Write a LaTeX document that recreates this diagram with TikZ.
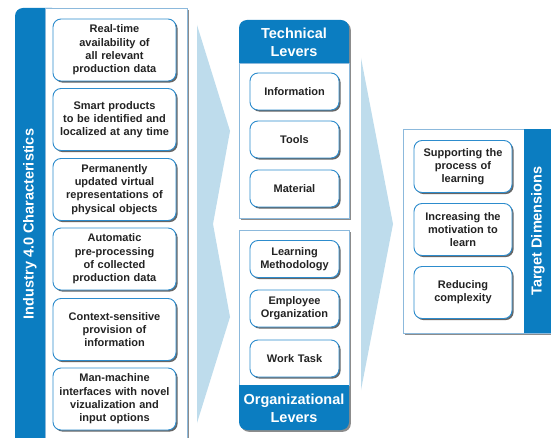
\documentclass[tikz,border=0pt]{standalone}
\usepackage{fontspec}
\setmainfont{Liberation Sans}
\usetikzlibrary{shadows}
\definecolor{levblue}{RGB}{11,125,193}
\definecolor{arrblue}{RGB}{190,220,236}
\definecolor{boxline}{RGB}{45,140,205}
\definecolor{panline}{RGB}{140,185,220}
\definecolor{txtgray}{RGB}{35,35,35}
\tikzset{
  item/.style={draw=boxline, line width=0.9pt, fill=white, rounded corners=8pt, align=center, inner sep=1pt, text=txtgray,
    font=\fontsize{11}{13.3}\selectfont\bfseries,
    drop shadow={shadow xshift=1.6pt, shadow yshift=-1.6pt, fill=black!60, opacity=1}},
  charbox/.style={item, text width=121pt, minimum height=62pt},
  leverbox/.style={item, text width=87pt, minimum height=37pt},
  targetbox/.style={item, text width=96pt, minimum height=52pt},
  panel/.style={draw=panline, fill=white, line width=0.6pt,
    drop shadow={shadow xshift=1.8pt, shadow yshift=-1.8pt, fill=black!45, opacity=1}},
  title/.style={text=white, align=center, font=\fontsize{14.5}{18}\selectfont\bfseries},
}

\begin{document}
\begin{tikzpicture}[x=1pt,y=-1pt]
\clip (0,0) rectangle (551,438);
\fill[white] (0,0) rectangle (551,438);
%\draw[step=10,gray,very thin] (0,0) grid (551,438);

\fill[arrblue] (197,25) -- (230,131) -- (213,224) -- (230,317) -- (197,423) -- cycle;
\fill[arrblue] (361,58) -- (393,224) -- (361,390) -- cycle;

% industry 4.0 characteristics
\fill[levblue, rounded corners=8pt] (15,8) rectangle (60,450);
\draw[panel] (45,8) rectangle (187,450);
\node[title, rotate=90] (chartitle) at (30,224) {Industry 4.0 Characteristics};
\node[charbox] (realtime) at (114.5,50) {Real-time\\availability of\\all relevant\\production data};
\node[charbox] (smartprod) at (114.5,119.5) {Smart products\\to be identified and\\localized at any time};
\node[charbox] (virtrep) at (114.5,189.5) {Permanently\\updated virtual\\representations of\\physical objects};
\node[charbox] (preproc) at (114.5,259) {Automatic\\pre-processing\\of collected\\production data};
\node[charbox] (context) at (114.5,329.5) {Context-sensitive\\provision of\\information};
\node[charbox] (manmachine) at (114.5,399) {Man-machine\\interfaces with novel\\vizualization and\\input options};

% technical levers
\fill[levblue, rounded corners=8pt, drop shadow={shadow xshift=1.8pt, shadow yshift=-1.8pt, fill=black!45, opacity=1}] (239,20) rectangle (349,72);
\draw[panel] (239,63) rectangle (349,218);
\node[title] (techtitle) at (294,42.5) {Technical\\Levers};
\node[leverbox] (info) at (294.5,91.5) {Information};
\node[leverbox] (tools) at (294.5,139.5) {Tools};
\node[leverbox] (material) at (294.5,188.5) {Material};

% organizational levers
\fill[levblue, rounded corners=8pt, drop shadow={shadow xshift=1.8pt, shadow yshift=-1.8pt, fill=black!45, opacity=1}] (239,374) rectangle (349,430);
\draw[panel] (239,230) rectangle (349,385);
\fill[levblue] (239.3,384.7) rectangle (348.7,390);
\node[title] (orgtitle) at (294,408) {Organizational\\Levers};
\node[leverbox] (method) at (294.5,259) {Learning\\Methodology};
\node[leverbox] (employee) at (294.5,308.5) {Employee\\Organization};
\node[leverbox] (worktask) at (294.5,358.5) {Work Task};

% target dimensions
\draw[panel] (403,129) rectangle (560,333);
\fill[levblue] (524,129.3) rectangle (560,332.7);
\node[title, rotate=90] (targettitle) at (538,231) {Target Dimensions};
\node[targetbox] (support) at (463,166.5) {Supporting the\\process of\\learning};
\node[targetbox] (motivate) at (463,229.5) {Increasing the\\motivation to\\learn};
\node[targetbox] (reduce) at (463,292.5) {Reducing\\complexity};
\end{tikzpicture}
\end{document}
